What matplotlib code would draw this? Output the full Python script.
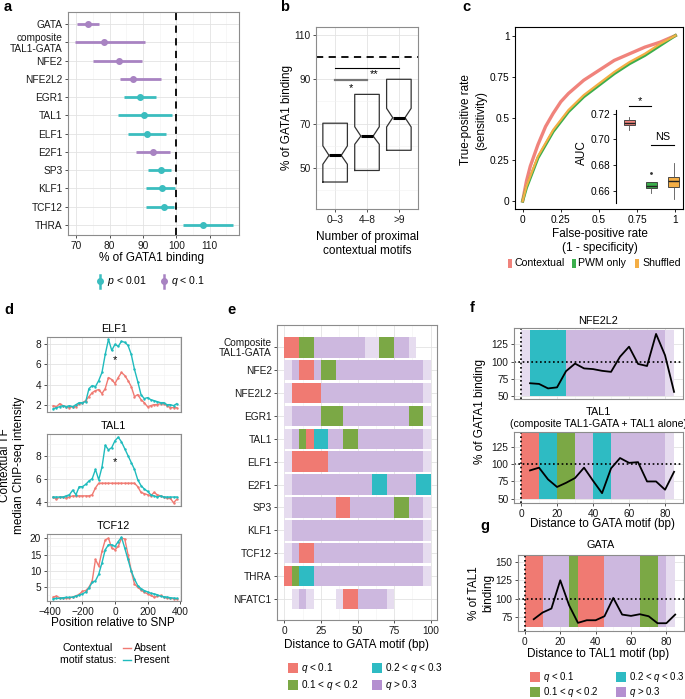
import numpy as np
import matplotlib.pyplot as plt
from matplotlib.patches import Rectangle
from matplotlib.lines import Line2D

plt.rcParams['font.family'] = ['Liberation Sans', 'DejaVu Sans']
plt.rcParams['mathtext.fontset'] = 'custom'
plt.rcParams['mathtext.rm'] = 'Liberation Sans'
plt.rcParams['mathtext.it'] = 'Liberation Sans:italic'
plt.rcParams['font.size'] = 7

W, H = 685, 699
TICK = 7.3
LAB = 8.5

# colours
TEAL = '#3BBDBF'
PURP = '#A883C2'
RED = '#F07A72'
GREEN = '#7BA845'
CYAN = '#2EBBC3'
PMID = '#CDB8DF'
PLIGHT = '#E6DCEF'
PSWATCH = '#B48FD0'
C_CTX = '#F0837C'
C_PWM = '#3BAE4C'
C_SHUF = '#F4AE45'
BIN_COL = {'r': RED, 'g': GREEN, 't': CYAN, 'p': PMID, 'l': PLIGHT}

# ---- panel a: % of GATA1 binding per contextual motif ----
a_labels = ['GATA', 'composite\nTAL1-GATA', 'NFE2', 'NFE2L2', 'EGR1', 'TAL1',
            'ELF1', 'E2F1', 'SP3', 'KLF1', 'TCF12', 'THRA']
a_mid = [73.6, 78.4, 82.9, 86.9, 89.0, 90.3, 91.1, 92.9, 95.4, 95.6, 96.4, 107.9]
a_lo = [70.3, 69.7, 75.0, 83.0, 84.2, 82.6, 85.5, 88.0, 91.6, 90.9, 90.9, 102.0]
a_hi = [76.7, 90.6, 89.6, 95.4, 93.9, 98.8, 96.8, 98.0, 98.4, 99.5, 99.3, 117.0]
a_sig = ['q', 'q', 'q', 'q', 'p', 'p', 'p', 'q', 'p', 'p', 'p', 'p']

# ---- panel b: notched boxes ----
b_cats = ['0\u20133', '4\u20138', '>9']
b_q1 = [43.7, 48.9, 58.0]
b_q3 = [70.2, 83.2, 90.0]
b_med = [55.7, 64.4, 72.7]
b_cilo = [51.7, 60.7, 68.5]
b_cihi = [60.0, 68.6, 76.9]

# ---- panel c: ROC curves + AUC boxes ----
roc_fpr = [0, 0.025, 0.05, 0.1, 0.15, 0.2, 0.25, 0.3, 0.4, 0.5, 0.6, 0.7, 0.8, 0.9, 1.0]
roc_ctx = [0, 0.12, 0.21, 0.34, 0.45, 0.53, 0.60, 0.65, 0.73, 0.79, 0.85, 0.89, 0.93, 0.96, 1.0]
roc_pwm = [0, 0.08, 0.14, 0.26, 0.34, 0.42, 0.48, 0.54, 0.63, 0.70, 0.77, 0.83, 0.88, 0.94, 1.0]
roc_shuf = [0, 0.09, 0.15, 0.27, 0.35, 0.43, 0.49, 0.55, 0.64, 0.71, 0.78, 0.84, 0.89, 0.95, 1.0]
auc_names = ['Contextual', 'PWM only', 'Shuffled']
auc_med = [0.7130, 0.6635, 0.6679]
auc_q1 = [0.7110, 0.6619, 0.6631]
auc_q3 = [0.7151, 0.6670, 0.6709]
auc_lo = [0.7073, 0.6580, 0.6540]
auc_hi = [0.7177, 0.6670, 0.6820]
auc_out = [[], [0.6738], []]

# ---- panel d: ChIP-seq intensity profiles ----
d_pos = list(range(-380, 400, 20))
elf1_present = [1.6, 1.7, 1.8, 1.9, 1.8, 1.9, 1.8, 2.0, 2.2, 2.2, 2.3, 3.6, 3.9, 3.8, 4.4, 5.2,
                7.0, 8.5, 7.4, 8.0, 7.8, 8.3, 8.2, 7.9, 7.0, 5.5, 4.3, 3.0, 2.6, 2.7, 2.5, 2.4,
                2.3, 2.2, 2.2, 2.0, 2.0, 1.9, 2.1]
elf1_absent = [1.9, 1.8, 2.1, 1.9, 1.8, 1.7, 1.8, 1.8, 2.1, 2.2, 2.4, 2.8, 3.2, 3.4, 3.5, 3.1,
               3.6, 4.7, 4.5, 4.1, 4.7, 5.2, 4.9, 4.4, 3.8, 2.8, 3.0, 2.5, 2.2, 1.8, 1.9, 2.0,
               2.0, 2.1, 2.1, 1.9, 1.7, 1.7, 1.7]
tal1_present = [4.4, 4.4, 4.4, 4.4, 4.5, 4.6, 5.0, 4.6, 5.3, 5.3, 5.5, 5.8, 6.0, 6.8, 5.9, 7.0,
                8.9, 8.5, 8.7, 9.3, 9.6, 9.2, 8.6, 8.0, 7.4, 6.8, 5.9, 5.4, 5.1, 4.9, 4.6, 4.5,
                4.4, 4.5, 4.4, 4.4, 4.4, 4.4, 4.4]
tal1_absent = [4.4, 4.2, 4.4, 4.4, 4.3, 4.4, 4.5, 4.5, 4.5, 4.5, 4.5, 4.5, 4.6, 5.2, 5.6, 5.6,
               5.6, 5.6, 5.6, 5.6, 5.6, 5.6, 5.6, 5.6, 5.6, 5.6, 5.3, 4.8, 4.7, 4.6, 4.5, 4.8,
               4.6, 4.5, 4.4, 4.3, 4.3, 3.9, 4.2]
tcf12_present = [1.5, 1.6, 1.6, 1.8, 1.9, 1.9, 2.0, 2.3, 2.6, 3.0, 3.5, 4.8, 6.5, 7.0, 9.0, 12.5,
                 16.5, 18.0, 18.0, 17.5, 19.0, 20.3, 17.0, 13.5, 10.0, 7.5, 5.5, 4.6, 4.0, 3.6,
                 3.2, 3.0, 2.7, 2.3, 2.1, 2.0, 1.8, 1.7, 1.6]
tcf12_absent = [2.0, 2.3, 1.8, 1.7, 1.7, 1.8, 2.0, 2.4, 2.8, 3.8, 4.0, 5.0, 7.0, 13.5, 11.5, 16.0,
                19.5, 20.0, 17.0, 16.5, 17.5, 20.0, 19.8, 15.0, 10.0, 6.0, 5.0, 4.2, 3.5, 3.0,
                2.5, 2.0, 2.2, 2.5, 2.0, 1.7, 1.6, 1.5, 1.3]

# ---- panel e: significance per 5-bp distance bin (r/g/t/p/l, '.' = none) ----
e_rows = ['Composite\nTAL1-GATA', 'NFE2', 'NFE2L2', 'EGR1', 'TAL1', 'ELF1', 'E2F1',
          'SP3', 'KLF1', 'TCF12', 'THRA', 'NFATC1']
e_bins = [
    'rrggpppppppllggppl..',
    'lprrpggppppppppppppl',
    'lrrrrppppppppppppppl',
    'lppppgggpppppppppggl',
    'lpgrttppggpppppppppl',
    'lrrrrrpppppppppppppl',
    'lppppppppppptt' + 'pppptt',
    'lpppppprrppppppggppl',
    'lppppppppppppppppppl',
    'lprrpppppppppppppppl',
    'rgttpppppppppppppppl',
    '.lpl...lrrppppl.....',
]

# ---- panels f, g: binding vs distance ----
fg_pos = [5, 10, 15, 20, 25, 30, 35, 40, 45, 50, 55, 60, 65, 70, 75, 80, 85]
f_nfe2l2 = [68.5, 67.5, 61, 62.5, 86, 97, 90, 89, 86.5, 85, 107, 121.5, 96.5, 93.5, 140, 109, 56]
f_tal1 = [91, 95, 78, 67, 73, 80, 95, 76, 58, 94, 109, 102, 103, 75, 75, 63, 89]
g_gata = [71.6, 80.8, 86.3, 125.2, 90.8, 66.6, 70.2, 70.2, 75.7, 100.9, 78, 76.2, 78.5, 75.7,
          66.1, 66.1, 78]
f_nfe2l2_bins = 'lttttpppppppppppl'
f_tal1_bins = 'rrttggppttppppppl'
g_gata_bins = 'rrpppgrrrppppggpl'

q_labels = ['$q$ < 0.1', '0.1 < $q$ < 0.2', '0.2 < $q$ < 0.3', '$q$ > 0.3']
q_cols = [RED, GREEN, CYAN, PSWATCH]

fig = plt.figure(figsize=(W / 100, H / 100), dpi=100)


def add_ax(l, t, r, b):
    return fig.add_axes([l / W, 1 - b / H, (r - l) / W, (b - t) / H])


def ftxt(x, y, s, **kw):
    kw.setdefault('ha', 'center')
    kw.setdefault('va', 'center')
    kw.setdefault('fontsize', LAB)
    fig.text(x / W, 1 - y / H, s, **kw)


def fline(xs, ys, **kw):
    fig.add_artist(Line2D([x / W for x in xs], [1 - y / H for y in ys],
                          transform=fig.transFigure, **kw))


def fbox(x, y, w, h, col):
    fig.add_artist(Rectangle((x / W, 1 - (y + h) / H), w / W, h / H, color=col,
                             transform=fig.transFigure, lw=0))


def bw(ax):
    for s in ax.spines.values():
        s.set_color('#8C8C8C')
        s.set_linewidth(0.8)
    ax.grid(True, which='major', color='#E3E3E3', lw=0.6)
    ax.grid(True, which='minor', color='#F1F1F1', lw=0.4)
    ax.set_axisbelow(True)
    ax.tick_params(which='major', length=2.5, width=0.6, color='#333333',
                   labelsize=TICK, pad=1.5, labelcolor='#1A1A1A')
    ax.tick_params(which='minor', length=0)


def q_legend(x1, x2, y1, y2, fs=7.2):
    pos = [(x1, y1), (x1, y2), (x2, y1), (x2, y2)]
    for (x, y), lab, col in zip(pos, q_labels, q_cols):
        fbox(x, y - 5, 10, 10, col)
        ftxt(x + 13, y, lab, ha='left', fontsize=fs)


# ================= a =================
ax = add_ax(68, 12.3, 239, 235)
bw(ax)
for i in range(len(a_labels)):
    col = TEAL if a_sig[i] == 'p' else PURP
    ax.plot([a_lo[i], a_hi[i]], [i, i], color=col, lw=2, solid_capstyle='butt')
    ax.plot(a_mid[i], i, 'o', color=col, ms=4)
ax.axvline(100, color='black', lw=1.3, ls=(0, (4, 3)))
ax.set_xlim(67.5, 118.8)
ax.set_ylim(11.55, -0.64)
ax.set_xticks([70, 80, 90, 100, 110])
ax.set_xticks([75, 85, 95, 105, 115], minor=True)
ax.set_yticks(range(len(a_labels)))
ax.set_yticklabels(a_labels, linespacing=1.15)
ftxt(151.7, 258, '% of GATA1 binding')
fline([100, 100], [274.5, 287.5], color=TEAL, lw=1.8)
fline([100], [281], color=TEAL, marker='o', ms=4)
ftxt(107, 281, '$p$ < 0.01', ha='left', fontsize=7.6)
fline([164.3, 164.3], [274.5, 287.5], color=PURP, lw=1.8)
fline([164.3], [281], color=PURP, marker='o', ms=4)
ftxt(171, 281, '$q$ < 0.1', ha='left', fontsize=7.6)

# ================= b =================
ax = add_ax(316, 26.7, 418, 209.3)
bw(ax)
stats = [dict(med=b_med[i], q1=b_q1[i], q3=b_q3[i], whislo=b_q1[i], whishi=b_q3[i],
              cilo=b_cilo[i], cihi=b_cihi[i], fliers=[]) for i in range(3)]
ax.bxp(stats, positions=[1, 2, 3], widths=0.77, shownotches=True, showcaps=False,
       showfliers=False, boxprops=dict(color='#333333', lw=0.9),
       medianprops=dict(color='black', lw=2.2), whiskerprops=dict(lw=0))
ax.axhline(100, color='black', lw=1.3, ls=(0, (4, 3)))
ax.plot([1, 3], [95.3, 95.3], color='black', lw=0.8)
ax.text(2.23, 92.3, '**', ha='center', va='center', fontsize=8)
ax.plot([1, 2], [89.7, 89.7], color='#777777', lw=1.6)
ax.text(1.5, 86.0, '*', ha='center', va='center', fontsize=8)
ax.set_xlim(0.4, 3.6)
ax.set_ylim(31.4, 113.7)
ax.set_xticks([1, 2, 3])
ax.set_xticklabels(b_cats)
ax.set_yticks([50, 70, 90, 110])
ax.set_yticks([40, 60, 80, 100], minor=True)
ftxt(287, 118, '% of GATA1 binding', rotation=90)
ftxt(367, 237, 'Number of proximal')
ftxt(367, 250.7, 'contextual motifs')

# ================= c =================
ax = add_ax(515, 27.3, 683, 209.3)
for s in ax.spines.values():
    s.set_color('black')
    s.set_linewidth(0.8)
ax.plot(roc_fpr, roc_ctx, color=C_CTX, lw=2.4)
ax.plot(roc_fpr, roc_pwm, color=C_PWM, lw=2.2)
ax.plot(roc_fpr, roc_shuf, color=C_SHUF, lw=1.6)
ax.set_xlim(-0.05, 1.05)
ax.set_ylim(-0.05, 1.05)
ticks = [0, 0.25, 0.5, 0.75, 1]
tlabs = ['0', '0.25', '0.5', '0.75', '1']
ax.set_xticks(ticks)
ax.set_xticklabels(tlabs)
ax.set_yticks(ticks)
ax.set_yticklabels(tlabs)
ax.tick_params(length=2.5, width=0.6, labelsize=TICK, pad=1.5)
ftxt(599.7, 234, 'False-positive rate')
ftxt(599.7, 248, '(1 - specificity)')
ftxt(466, 120, 'True-positive rate', rotation=90)
ftxt(481, 120, '(sensitivity)', rotation=90)

ins = add_ax(615.7, 110, 684, 203.3)
ins.patch.set_alpha(0)
for k in ['top', 'right', 'bottom']:
    ins.spines[k].set_visible(False)
ins.spines['left'].set_linewidth(0.8)
astats = [dict(med=auc_med[i], q1=auc_q1[i], q3=auc_q3[i], whislo=auc_lo[i],
               whishi=auc_hi[i], fliers=auc_out[i]) for i in range(3)]
bp = ins.bxp(astats, positions=[1, 2, 3], widths=0.5, patch_artist=True, showcaps=False,
             boxprops=dict(edgecolor='#333333', lw=0.6),
             whiskerprops=dict(color='#555555', lw=0.6),
             medianprops=dict(color='#222222', lw=1.0),
             flierprops=dict(marker='.', ms=2, mfc='#333333', mec='#333333'))
for patch, col in zip(bp['boxes'], [C_CTX, C_PWM, C_SHUF]):
    patch.set_facecolor(col)
ins.set_xlim(0.4, 3.46)
ins.set_ylim(0.6503, 0.7229)
ins.set_xticks([])
ins.set_yticks([0.66, 0.68, 0.70, 0.72])
ins.set_yticklabels(['0.66', '0.68', '0.70', '0.72'])
ins.tick_params(length=2.5, width=0.6, labelsize=TICK, pad=1.5)
ins.plot([1, 2], [0.7262, 0.7262], color='black', lw=0.8, clip_on=False)
ins.text(1.5, 0.7300, '*', ha='center', va='center', fontsize=8, clip_on=False)
ins.plot([2, 3], [0.6958, 0.6958], color='black', lw=0.8)
ins.text(2.5, 0.7020, 'NS', ha='center', va='center', fontsize=7.8)
ftxt(582, 153, 'AUC', rotation=90)

for x, col in [(508, C_CTX), (571.7, C_PWM), (635, C_SHUF)]:
    fbox(x, 259, 4, 9, col)
ftxt(514.5, 263.3, 'Contextual', ha='left', fontsize=7.6)
ftxt(578.5, 263.3, 'PWM only', ha='left', fontsize=7.6)
ftxt(642, 263.3, 'Shuffled', ha='left', fontsize=7.6)

# ================= d =================
d_specs = [('ELF1', elf1_absent, elf1_present, 337, 411.7, (1.3, 8.73), [2, 4, 6, 8],
            [3, 5, 7], 6.4),
           ('TAL1', tal1_absent, tal1_present, 434, 506, (3.62, 9.88), [4, 6, 8],
            [5, 7, 9], 7.45),
           ('TCF12', tcf12_absent, tcf12_present, 534, 601, (0.8, 21.3), [5, 10, 15, 20],
            [2.5, 7.5, 12.5, 17.5], None)]
for k, (name, absent, present, top, bot, ylim, yt, ym, star) in enumerate(d_specs):
    ax = add_ax(46.7, top, 181, bot)
    bw(ax)
    ax.plot(d_pos, absent, color=RED, lw=1.0, marker='.', ms=1.5)
    ax.plot(d_pos, present, color='#1FBBBD', lw=1.0, marker='.', ms=1.5)
    if star is not None:
        ax.text(0, star, '*', ha='center', va='center', fontsize=8)
    ax.set_xlim(-420, 406)
    ax.set_ylim(*ylim)
    ax.set_xticks([-400, -200, 0, 200, 400])
    ax.set_xticks([-300, -100, 100, 300], minor=True)
    ax.set_yticks(yt)
    ax.set_yticks(ym, minor=True)
    if k < 2:
        ax.tick_params(axis='x', length=0, labelbottom=False)
    else:
        ax.set_xticklabels(['\u2212400', '\u2212200', '0', '200', '400'])
    ftxt(113.8, top - 8, name, fontsize=7.8)
ftxt(113, 623.3, 'Position relative to SNP')
ftxt(12, 465, 'Contextual TF\nmedian ChIP-seq intensity', rotation=90, linespacing=1.15)
ftxt(88, 654, 'Contextual\nmotif status:', fontsize=7.6, linespacing=1.3,
     multialignment='center')
fline([123, 131], [648, 648], color=RED, lw=1.0)
ftxt(133.5, 648, 'Absent', ha='left', fontsize=7.6)
fline([123, 131], [660, 660], color='#1FBBBD', lw=1.0)
ftxt(133.5, 660, 'Present', ha='left', fontsize=7.6)

# ================= e =================
ax = add_ax(277.3, 325, 437.3, 620)
bw(ax)
for i, row in enumerate(e_bins):
    for j, ch in enumerate(row):
        if ch != '.':
            ax.barh(i, 5, left=j * 5, height=0.9, color=BIN_COL[ch], lw=0)
ax.set_xlim(-4.78, 104.5)
ax.set_ylim(11.92, -0.975)
ax.set_xticks([0, 25, 50, 75, 100])
ax.set_xticks([12.5, 37.5, 62.5, 87.5], minor=True)
ax.set_yticks(range(len(e_rows)))
ax.set_yticklabels(e_rows, linespacing=1.0)
ftxt(356.5, 645, 'Distance to GATA motif (bp)')
q_legend(288, 371.7, 668.3, 685)


# ================= f, g =================
def band_panel(ax, bins, vals, ylo, yhi):
    bw(ax)
    for j, ch in enumerate(bins):
        ax.bar(j * 5, yhi - ylo, width=5, bottom=ylo, align='edge', color=BIN_COL[ch],
               lw=0, zorder=1)
    ax.axhline(100, color='black', lw=1.2, ls=(0, (1, 1.6)), zorder=2)
    ax.axvline(0, color='black', lw=1.2, ls=(0, (1, 1.6)), zorder=2)
    ax.plot(fg_pos, vals, color='black', lw=1.3, zorder=3)
    ax.set_xticks([0, 20, 40, 60, 80])
    ax.set_xticks([10, 30, 50, 70], minor=True)


ax = add_ax(514, 328, 682.7, 399.3)
band_panel(ax, f_nfe2l2_bins, f_nfe2l2, 50, 145.7)
ax.set_xlim(-3.9, 89.8)
ax.set_ylim(45.2, 148.6)
ax.set_yticks([50, 75, 100, 125])
ax.tick_params(axis='x', length=0, labelbottom=False)
ftxt(598, 320.7, 'NFE2L2', fontsize=7.8)

ax = add_ax(514, 431.7, 682.7, 503.3)
band_panel(ax, f_tal1_bins, f_tal1, 50, 145.7)
ax.set_xlim(-3.9, 89.8)
ax.set_ylim(43.3, 147.2)
ax.set_yticks([50, 75, 100, 125])
ftxt(598, 411.7, 'TAL1', fontsize=7.8)
ftxt(598, 424.3, '(composite TAL1-GATA + TAL1 alone)', fontsize=7.6)
ftxt(480, 412, '% of GATA1 binding', rotation=90)
ftxt(602, 524.3, 'Distance to GATA motif (bp)')

ax = add_ax(518, 555, 683.5, 631)
band_panel(ax, g_gata_bins, g_gata, 61, 162)
ax.set_xlim(-3.9, 89.7)
ax.set_ylim(55.4, 160)
ax.set_yticks([75, 100, 125, 150])
ftxt(601, 545, 'GATA', fontsize=7.8)
ftxt(474, 593, '% of TAL1', rotation=90)
ftxt(488, 593, 'binding', rotation=90)
ftxt(598, 654.3, 'Distance to TAL1 motif (bp)')
q_legend(530, 616, 676.7, 692.3, fs=6.9)

# panel letters
for s, x, y in [('a', 4, 7), ('b', 280, 7), ('c', 462, 7), ('d', 4, 310), ('e', 227, 310),
                ('f', 470, 308), ('g', 480, 526)]:
    ftxt(x, y, s, ha='left', fontsize=10.5, fontweight='bold')

fig.savefig('out.png', dpi=100, facecolor='white')
